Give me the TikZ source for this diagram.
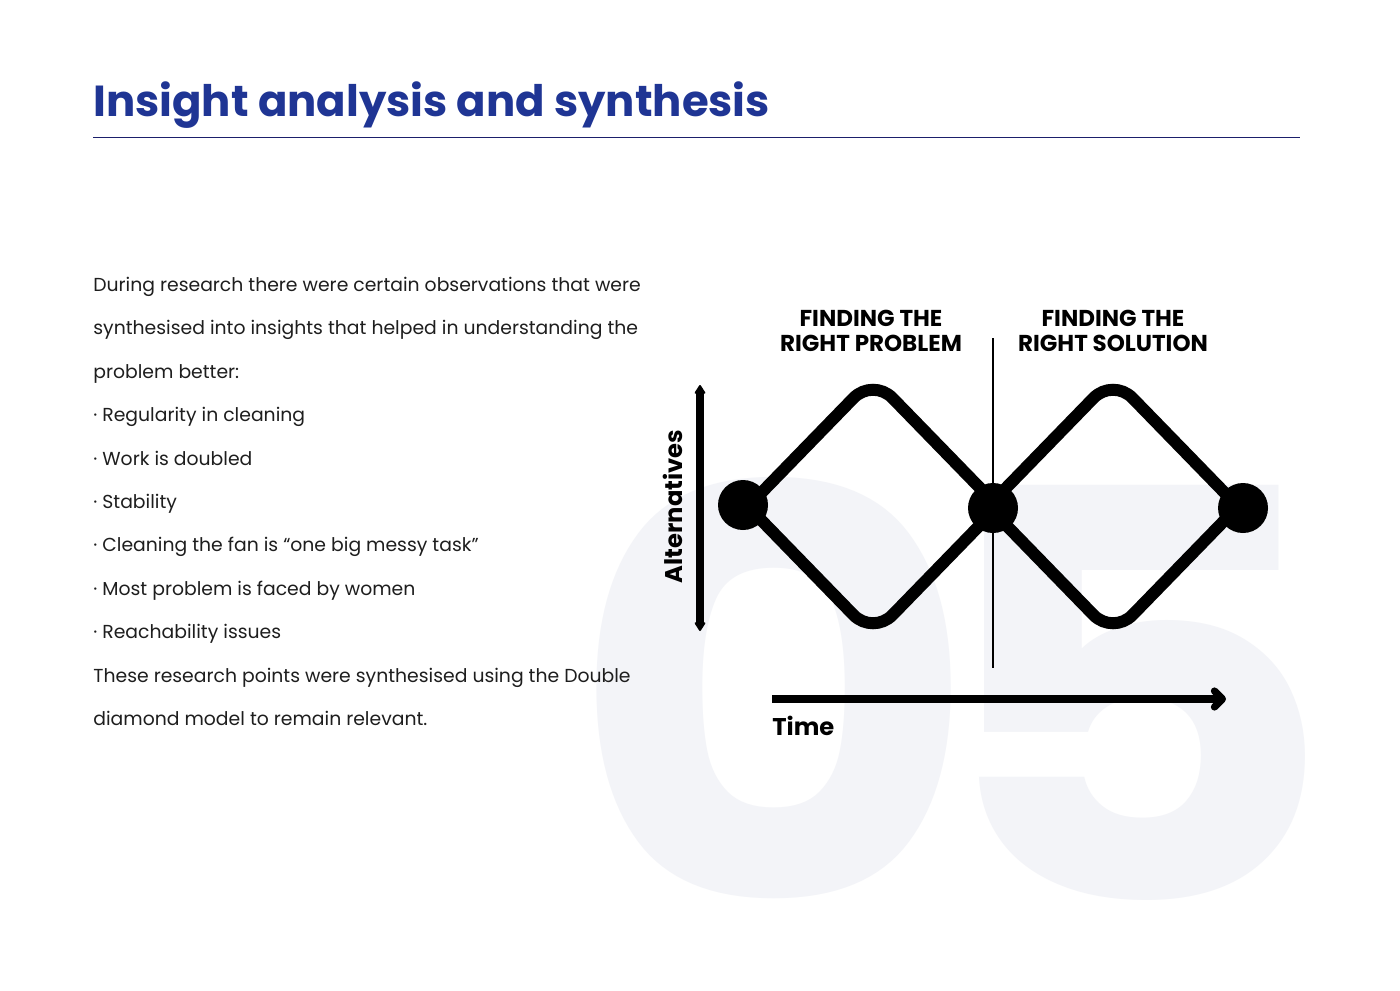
\documentclass[tikz,border=0pt]{standalone}
\usepackage{fontspec}
\setmainfont{Poppins}
\usetikzlibrary{arrows.meta}
\definecolor{titleblue}{HTML}{1F3594}
\definecolor{navy}{HTML}{1B1F6B}
\definecolor{bgnum}{HTML}{F3F4F8}
\definecolor{bodytext}{HTML}{1E1E1E}
\begin{document}
\begin{tikzpicture}[x=0.5pt,y=-0.5pt,
  bodyline/.style={anchor=base west, inner sep=0pt, text=bodytext, font=\fontsize{9.4pt}{11pt}\selectfont},
  header/.style={align=center, inner sep=0pt, font=\bfseries\fontsize{11.5pt}{12.6pt}\selectfont},
  axislabel/.style={inner sep=0pt, font=\bfseries\fontsize{12.1pt}{14pt}\selectfont},
  bgdigit/.style={anchor=base, inner sep=0pt, text=bgnum, font=\bfseries\fontsize{284pt}{284pt}\selectfont},
  diamondline/.style={line width=6pt, rounded corners=14pt, line cap=butt},
  dot/.style={circle, fill=black, inner sep=0pt, minimum size=25pt},
  axisline/.style={line width=3.6pt}]
\useasboundingbox (0,0) rectangle (1400,990);
\fill[white] (0,0) rectangle (1400,990);
% background number
\node[bgdigit, xscale=1.11] (bg0) at (774.5,900) {0};
\node[bgdigit, xscale=1.11] (bg5) at (1131,900) {5};
% title
\node[anchor=base west, inner sep=0pt, text=titleblue, font=\bfseries\fontsize{21.7pt}{26pt}\selectfont] (title) at (93,117) {Insight analysis and synthesis};
\coordinate (r1) at (93,137.3);
\coordinate (r2) at (1300,137.3);
\draw[navy, line width=0.8pt] (r1) -- (r2);
% body text
\node[bodyline] (l1) at (93,291.5) {During research there were certain observations that were};
\node[bodyline] (l2) at (93,334.9) {synthesised into insights that helped in understanding the};
\node[bodyline] (l3) at (93,378.3) {problem better:};
\node[bodyline] (l4) at (93,421.7) {· Regularity in cleaning};
\node[bodyline] (l5) at (93,465.1) {· Work is doubled};
\node[bodyline] (l6) at (93,508.5) {· Stability};
\node[bodyline] (l7) at (93,551.9) {· Cleaning the fan is “one big messy task”};
\node[bodyline] (l8) at (93,595.3) {· Most problem is faced by women};
\node[bodyline] (l9) at (93,638.7) {· Reachability issues};
\node[bodyline] (l10) at (93,682.1) {These research points were synthesised using the Double};
\node[bodyline] (l11) at (93,725.5) {diamond model to remain relevant.};
% headers
\node[header] (h1) at (871,331) {FINDING THE\\RIGHT PROBLEM};
\node[header] (h2) at (1113,331) {FINDING THE\\RIGHT SOLUTION};
% divider
\coordinate (v0) at (993,338);
\coordinate (v1) at (993,668);
\draw[line width=0.8pt] (v0) -- (v1);
% diamond 1
\coordinate (a1) at (748,506.5);
\coordinate (b1) at (873,378);
\coordinate (c1) at (998,506.5);
\coordinate (e1) at (873,635);
\draw[diamondline] (a1) -- (b1) -- (c1);
\draw[diamondline] (a1) -- (e1) -- (c1);
% diamond 2
\coordinate (a2) at (988,506.5);
\coordinate (b2) at (1113,378);
\coordinate (c2) at (1238,506.5);
\coordinate (e2) at (1113,635);
\draw[diamondline] (a2) -- (b2) -- (c2);
\draw[diamondline] (a2) -- (e2) -- (c2);
% dots
\node[dot] (d1) at (743,505) {};
\node[dot] (d2) at (993,508) {};
\node[dot] (d3) at (1243,508) {};
% alternatives axis
\coordinate (alttop) at (700,385);
\coordinate (altbot) at (700,631);
\draw[axisline, {Stealth[length=5.5pt,width=7pt,round]}-{Stealth[length=5.5pt,width=7pt,round]}] (alttop) -- (altbot);
\node[axislabel, rotate=90] (alt) at (673,506.5) {Alternatives};
% time axis
\coordinate (t0) at (772,699);
\coordinate (t1) at (1226,699);
\draw[axisline, -{Straight Barb[length=4pt,width=8pt,round]}] (t0) -- (t1);
\node[axislabel, anchor=base west] (time) at (772,735.5) {Time};
\end{tikzpicture}
\end{document}
